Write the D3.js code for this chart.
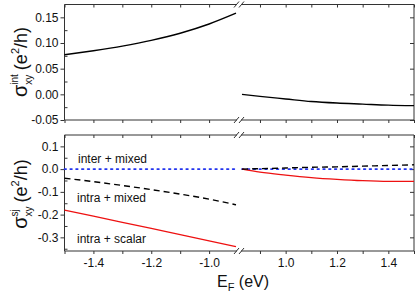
<!DOCTYPE html>
<html><head><meta charset="utf-8">
<script src="https://cdn.jsdelivr.net/npm/d3@7"></script>
<style>html,body{margin:0;padding:0;background:#fff}svg{display:block}</style>
</head><body>
<svg id="c" width="415" height="297"></svg>
<script>
// ---- data ----
const eLeft = [-1.5, -1.4, -1.3, -1.2, -1.1, -1.0, -0.907];
const eRight = [0.83, 0.9, 1.0, 1.1, 1.2, 1.3, 1.4, 1.5];
const intLeft = [0.077, 0.085, 0.094, 0.105, 0.119, 0.137, 0.158];
const intRight = [0.0, -0.004, -0.009, -0.014, -0.017, -0.019, -0.021, -0.022];
const interMixedLeft = [0, 0, 0, 0, 0, 0, 0];
const interMixedRight = [0, 0, 0, 0, 0, 0, 0, 0];
const intraMixedLeft = [-0.040, -0.055, -0.072, -0.090, -0.110, -0.132, -0.157];
const intraMixedRight = [0.0, 0.002, 0.005, 0.008, 0.010, 0.013, 0.016, 0.019];
const intraScalarLeft = [-0.180, -0.207, -0.234, -0.261, -0.288, -0.315, -0.341];
const intraScalarRight = [0.0, -0.013, -0.026, -0.037, -0.045, -0.051, -0.054, -0.054];
const xTicksLeft = [-1.5, -1.4, -1.3, -1.2, -1.1, -1.0];
const xTicksRight = [0.9, 1.0, 1.1, 1.2, 1.3, 1.4, 1.5];
const xLabelsLeft = [-1.4, -1.2, -1.0];
const xLabelsRight = [1.0, 1.2, 1.4];
const yTicksTop = [-0.05, 0.0, 0.05, 0.10, 0.15];
const yMinorTop = [-0.025, 0.025, 0.075, 0.125, 0.175];
const yTicksBot = [-0.3, -0.2, -0.1, 0.0, 0.1];
const yMinorBot = [-0.35, -0.25, -0.15, -0.05, 0.05, 0.15];
const seriesLabels = ["inter + mixed", "intra + mixed", "intra + scalar"];

const FONT = "Liberation Sans, Arial, Helvetica, sans-serif";
const svg = d3.select("#c");
const X0 = 64.5, XB1 = 236, XB2 = 242, X1 = 414;
const xL = d3.scaleLinear().domain([-1.5, -0.907]).range([X0, XB1]);
const xR = d3.scaleLinear().domain([0.83, 1.5]).range([XB2, X1]);
const yTop = d3.scaleLinear().domain([-0.05, 0.175]).range([120, 4.5]);
const yBot = d3.scaleLinear().domain([-0.36, 0.15]).range([251, 135]);
const AX = "#333";

function frame(y, showLabels) {
  const [yb, yt] = y.range();
  const g = svg.append("g");
  const la = g.append("g").attr("transform", `translate(${X0},0)`)
    .call(d3.axisLeft(y).tickValues(y === yTop ? yTicksTop : yTicksBot).tickSize(4).tickPadding(2)
      .tickFormat(y === yTop ? d3.format(".2f") : d3.format(".1f")));
  la.select(".domain").remove();
  g.append("g").attr("transform", `translate(${X0},0)`)
    .call(d3.axisRight(y).tickValues((y === yTop ? yMinorTop : yMinorBot).filter(v => v > y.domain()[0] && v < y.domain()[1])).tickSize(3).tickFormat(""))
    .select(".domain").remove();
  g.append("g").attr("transform", `translate(${X1},0)`)
    .call(d3.axisLeft(y).tickValues(y === yTop ? yTicksTop : yTicksBot).tickSize(4).tickFormat(""))
    .select(".domain").remove();
  [[xL, xTicksLeft, xLabelsLeft], [xR, xTicksRight, xLabelsRight]].forEach(([xs, tv, lv]) => {
    const ab = g.append("g").attr("transform", `translate(0,${yb})`)
      .call(d3.axisBottom(xs).tickValues(tv).tickSize(3).tickPadding(4)
        .tickFormat(v => (showLabels && lv.some(l => Math.abs(l - v) < 1e-9)) ? d3.format(".1f")(v).replace("−", "-") : ""));
    ab.select(".domain").remove();
    const at = g.append("g").attr("transform", `translate(0,${yt})`)
      .call(d3.axisBottom(xs).tickValues(tv).tickSize(3).tickFormat(""));
    at.select(".domain").remove();
  });
  g.selectAll(".tick line").attr("stroke", AX);
  g.selectAll("text").attr("font-family", FONT).attr("font-size", 12).attr("fill", "#111");
  g.selectAll("text").each(function () { const t = d3.select(this); t.text(t.text().replace("−", "-")); });
  const fr = g.append("g").attr("stroke", AX).attr("stroke-width", 1).attr("fill", "none");
  fr.append("line").attr("x1", X0).attr("x2", X0).attr("y1", yt).attr("y2", yb);
  fr.append("line").attr("x1", X1).attr("x2", X1).attr("y1", yt).attr("y2", yb);
  [yt, yb].forEach(yy => {
    fr.append("line").attr("x1", X0).attr("x2", XB1 + 1).attr("y1", yy).attr("y2", yy);
    fr.append("line").attr("x1", XB2 - 1).attr("x2", X1).attr("y1", yy).attr("y2", yy);
    fr.append("line").attr("x1", XB1 - 2).attr("x2", XB1 + 3).attr("y1", yy + 3).attr("y2", yy - 3);
    fr.append("line").attr("x1", XB2 - 3).attr("x2", XB2 + 2).attr("y1", yy + 3).attr("y2", yy - 3);
  });
}
frame(yTop, false);
frame(yBot, true);

function plot(xs, y, xsData, ys, color, dash, width) {
  const line = d3.line().x((d, i) => xs(xsData[i])).y(d => y(d)).curve(d3.curveMonotoneX);
  svg.append("path").datum(ys).attr("d", line).attr("fill", "none")
    .attr("stroke", color).attr("stroke-width", width)
    .attr("stroke-dasharray", dash).attr("stroke-linecap", dash === "1.6,4.2" ? "round" : "butt");
}
plot(xL, yTop, eLeft, intLeft, "#000", null, 1.4);
plot(xR, yTop, eRight, intRight, "#000", null, 1.4);
plot(xL, yBot, eLeft, interMixedLeft, "#2233ee", "1.6,4.2", 1.8);
plot(xR, yBot, eRight, interMixedRight, "#2233ee", "1.6,4.2", 1.8);
plot(xL, yBot, eLeft, intraScalarLeft, "#ee1111", null, 1.3);
plot(xR, yBot, eRight, intraScalarRight, "#ee1111", null, 1.3);
plot(xL, yBot, eLeft, intraMixedLeft, "#000", "6,4", 1.4);
plot(xR, yBot, eRight, intraMixedRight, "#000", "6,4", 1.4);

const labPos = [[78, 163], [77, 202], [77, 243]];
seriesLabels.forEach((t, i) => {
  svg.append("text").attr("x", labPos[i][0]).attr("y", labPos[i][1]).text(t)
    .attr("font-family", FONT).attr("font-size", 12).attr("fill", "#111");
});

function yTitle(cy, supText) {
  const g = svg.append("g").attr("transform", `translate(27,${cy}) rotate(-90)`);
  const pieces = [];
  let x = 0;
  const add = (t, size, dy, advance = true) => {
    const el = g.append("text").attr("x", x).attr("y", dy).text(t)
      .attr("font-family", FONT).attr("font-size", size).attr("fill", "#111");
    const w = el.node().getComputedTextLength();
    pieces.push(el);
    if (advance) x += w;
    return w;
  };
  add("σ", 20, 0);
  const x0 = x;
  const w1 = add(supText, 10, -9, false);
  const w2 = add("xy", 10, 5, false);
  x = x0 + Math.max(w1, w2) + 4;
  add("(e", 18, 0);
  add("2", 11, -8);
  add("/h)", 18, 0);
  const total = x;
  pieces.forEach(p => p.attr("x", +p.attr("x") - total / 2));
}
yTitle(62, "int");
yTitle(194, "sj");

const xt = svg.append("text").attr("y", 287).attr("font-family", FONT).attr("fill", "#111").attr("text-anchor", "middle").attr("x", 243);
xt.append("tspan").attr("font-size", 16).text("E");
xt.append("tspan").attr("font-size", 11).attr("dy", 4).text("F");
xt.append("tspan").attr("font-size", 16).attr("dy", -4).text(" (eV)");
</script>
</body></html>
